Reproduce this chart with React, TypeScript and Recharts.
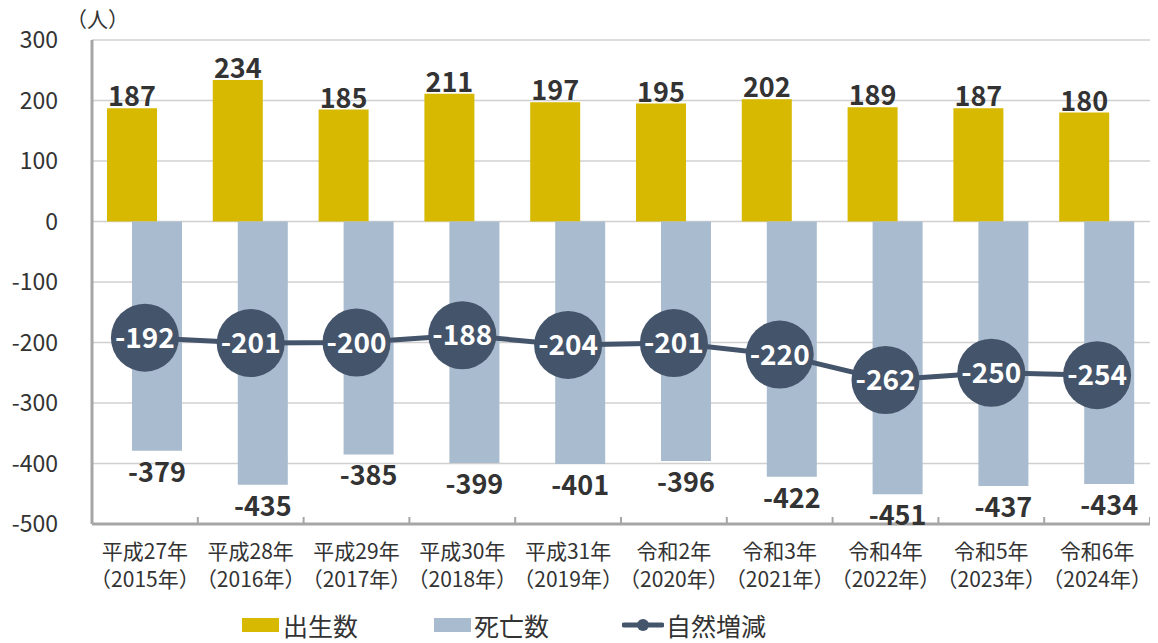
import { ComposedChart, Bar, Line, XAxis, YAxis, CartesianGrid, LabelList, Legend } from 'recharts';

const eras = ['平成27年', '平成28年', '平成29年', '平成30年', '平成31年', '令和2年', '令和3年', '令和4年', '令和5年', '令和6年'];
const years = ['2015', '2016', '2017', '2018', '2019', '2020', '2021', '2022', '2023', '2024'];
const births = [187, 234, 185, 211, 197, 195, 202, 189, 187, 180];
const deaths = [-379, -435, -385, -399, -401, -396, -422, -451, -437, -434];
const natural = [-192, -201, -200, -188, -204, -201, -220, -262, -250, -254];
const yTicks = [-500, -400, -300, -200, -100, 0, 100, 200, 300];

const data = eras.map((era, i) => ({
  era,
  year: years[i],
  births: births[i],
  deaths: deaths[i],
  natural: natural[i],
}));

const FONT = '"Noto Sans CJK JP", "Noto Sans", sans-serif';
const GOLD = '#d6b900';
const BLUE = '#a9bbce';
const NAVY = '#44546a';
const TEXT = '#333333';
const BAND = 105.8;

const XTick = (props: any) => {
  const { x, y, payload, index } = props;
  const row = data[index] ?? data.find((d) => d.era === payload.value);
  return (
    <g>
      <line x1={x - BAND / 2} x2={x - BAND / 2} y1={y - 7} y2={y} stroke="#a6a6a6" strokeWidth={2} />
      {index === data.length - 1 && (
        <line x1={x + BAND / 2} x2={x + BAND / 2} y1={y - 7} y2={y} stroke="#a6a6a6" strokeWidth={2} />
      )}
      <text x={x} y={y + 35} textAnchor="middle" fill={TEXT} fontSize={21} fontFamily={FONT}>
        {payload.value}
      </text>
      <text x={x} y={y + 63} textAnchor="middle" fill={TEXT} fontSize={21} fontFamily={FONT}>
        {`（${row ? row.year : ''}年）`}
      </text>
    </g>
  );
};

const BirthLabel = (props: any) => {
  const { x, y, width, height, value } = props;
  const top = Math.min(y, y + height);
  return (
    <text x={x + width / 2} y={top - 2} textAnchor="middle" fill={TEXT} fontSize={27} fontWeight={700} fontFamily={FONT}>
      {value}
    </text>
  );
};

const DeathLabel = (props: any) => {
  const { x, y, width, height, value } = props;
  const bottom = Math.max(y, y + height);
  return (
    <text x={x + width / 2} y={bottom + 31} textAnchor="middle" fill={TEXT} fontSize={27} fontWeight={700} fontFamily={FONT}>
      {value}
    </text>
  );
};

const NaturalLabel = (props: any) => {
  const { x, y, value } = props;
  return (
    <text x={x} y={y + 10} textAnchor="middle" fill="#ffffff" fontSize={28} fontWeight={700} fontFamily={FONT}>
      {value}
    </text>
  );
};

const BigDot = (props: any) => {
  const { cx, cy, index } = props;
  return <circle key={index} cx={cx} cy={cy} r={34} fill={NAVY} />;
};

const LegendBox = () => (
  <div style={{ position: 'relative', height: 40, fontFamily: FONT, fontSize: 25, color: TEXT }}>
    <div style={{ position: 'absolute', left: 242, top: 4, display: 'flex', alignItems: 'center' }}>
      <span style={{ width: 37, height: 14, background: GOLD, display: 'inline-block', marginRight: 4 }} />
      出生数
    </div>
    <div style={{ position: 'absolute', left: 434, top: 4, display: 'flex', alignItems: 'center' }}>
      <span style={{ width: 37, height: 14, background: BLUE, display: 'inline-block', marginRight: 3 }} />
      死亡数
    </div>
    <div style={{ position: 'absolute', left: 622, top: 4, display: 'flex', alignItems: 'center' }}>
      <svg width={42} height={14} style={{ marginRight: 2 }}>
        <line x1={2} x2={40} y1={7} y2={7} stroke={NAVY} strokeWidth={5} strokeLinecap="round" />
        <circle cx={21} cy={7} r={6} fill={NAVY} />
      </svg>
      自然増減
    </div>
  </div>
);

export default function App() {
  return (
    <div style={{ position: 'relative', width: 1158, height: 643, margin: '-8px 0 0 -8px', background: '#fff' }}>
      <div style={{ position: 'absolute', left: 66, top: 3, fontFamily: FONT, fontSize: 21, color: TEXT }}>（人）</div>
      <ComposedChart
        width={1158}
        height={643}
        data={data}
        margin={{ top: 40, right: 8, bottom: 0, left: 0 }}
        barSize={50}
        barGap={-25}
      >
        <CartesianGrid vertical={false} stroke="#d0d0d0" strokeWidth={1.5} />
        <XAxis
          dataKey="era"
          height={79}
          axisLine={{ stroke: '#a6a6a6', strokeWidth: 3 }}
          tickLine={false}
          tickSize={0}
          tickMargin={0}
          tick={<XTick />}
          interval={0}
        />
        <YAxis
          width={92}
          domain={[-500, 300]}
          ticks={yTicks}
          interval={0}
          axisLine={{ stroke: '#a6a6a6', strokeWidth: 3 }}
          tickLine={false}
          tickMargin={28}
          tick={{ fill: TEXT, fontSize: 23, fontFamily: FONT }}
        />
        <Legend verticalAlign="bottom" content={<LegendBox />} />
        <Bar dataKey="births" name="出生数" fill={GOLD} isAnimationActive={false}>
          <LabelList dataKey="births" content={<BirthLabel />} />
        </Bar>
        <Bar dataKey="deaths" name="死亡数" fill={BLUE} isAnimationActive={false}>
          <LabelList dataKey="deaths" content={<DeathLabel />} />
        </Bar>
        <Line
          dataKey="natural"
          name="自然増減"
          stroke={NAVY}
          strokeWidth={5}
          dot={<BigDot />}
          activeDot={false}
          isAnimationActive={false}
        >
          <LabelList dataKey="natural" content={<NaturalLabel />} />
        </Line>
      </ComposedChart>
    </div>
  );
}
